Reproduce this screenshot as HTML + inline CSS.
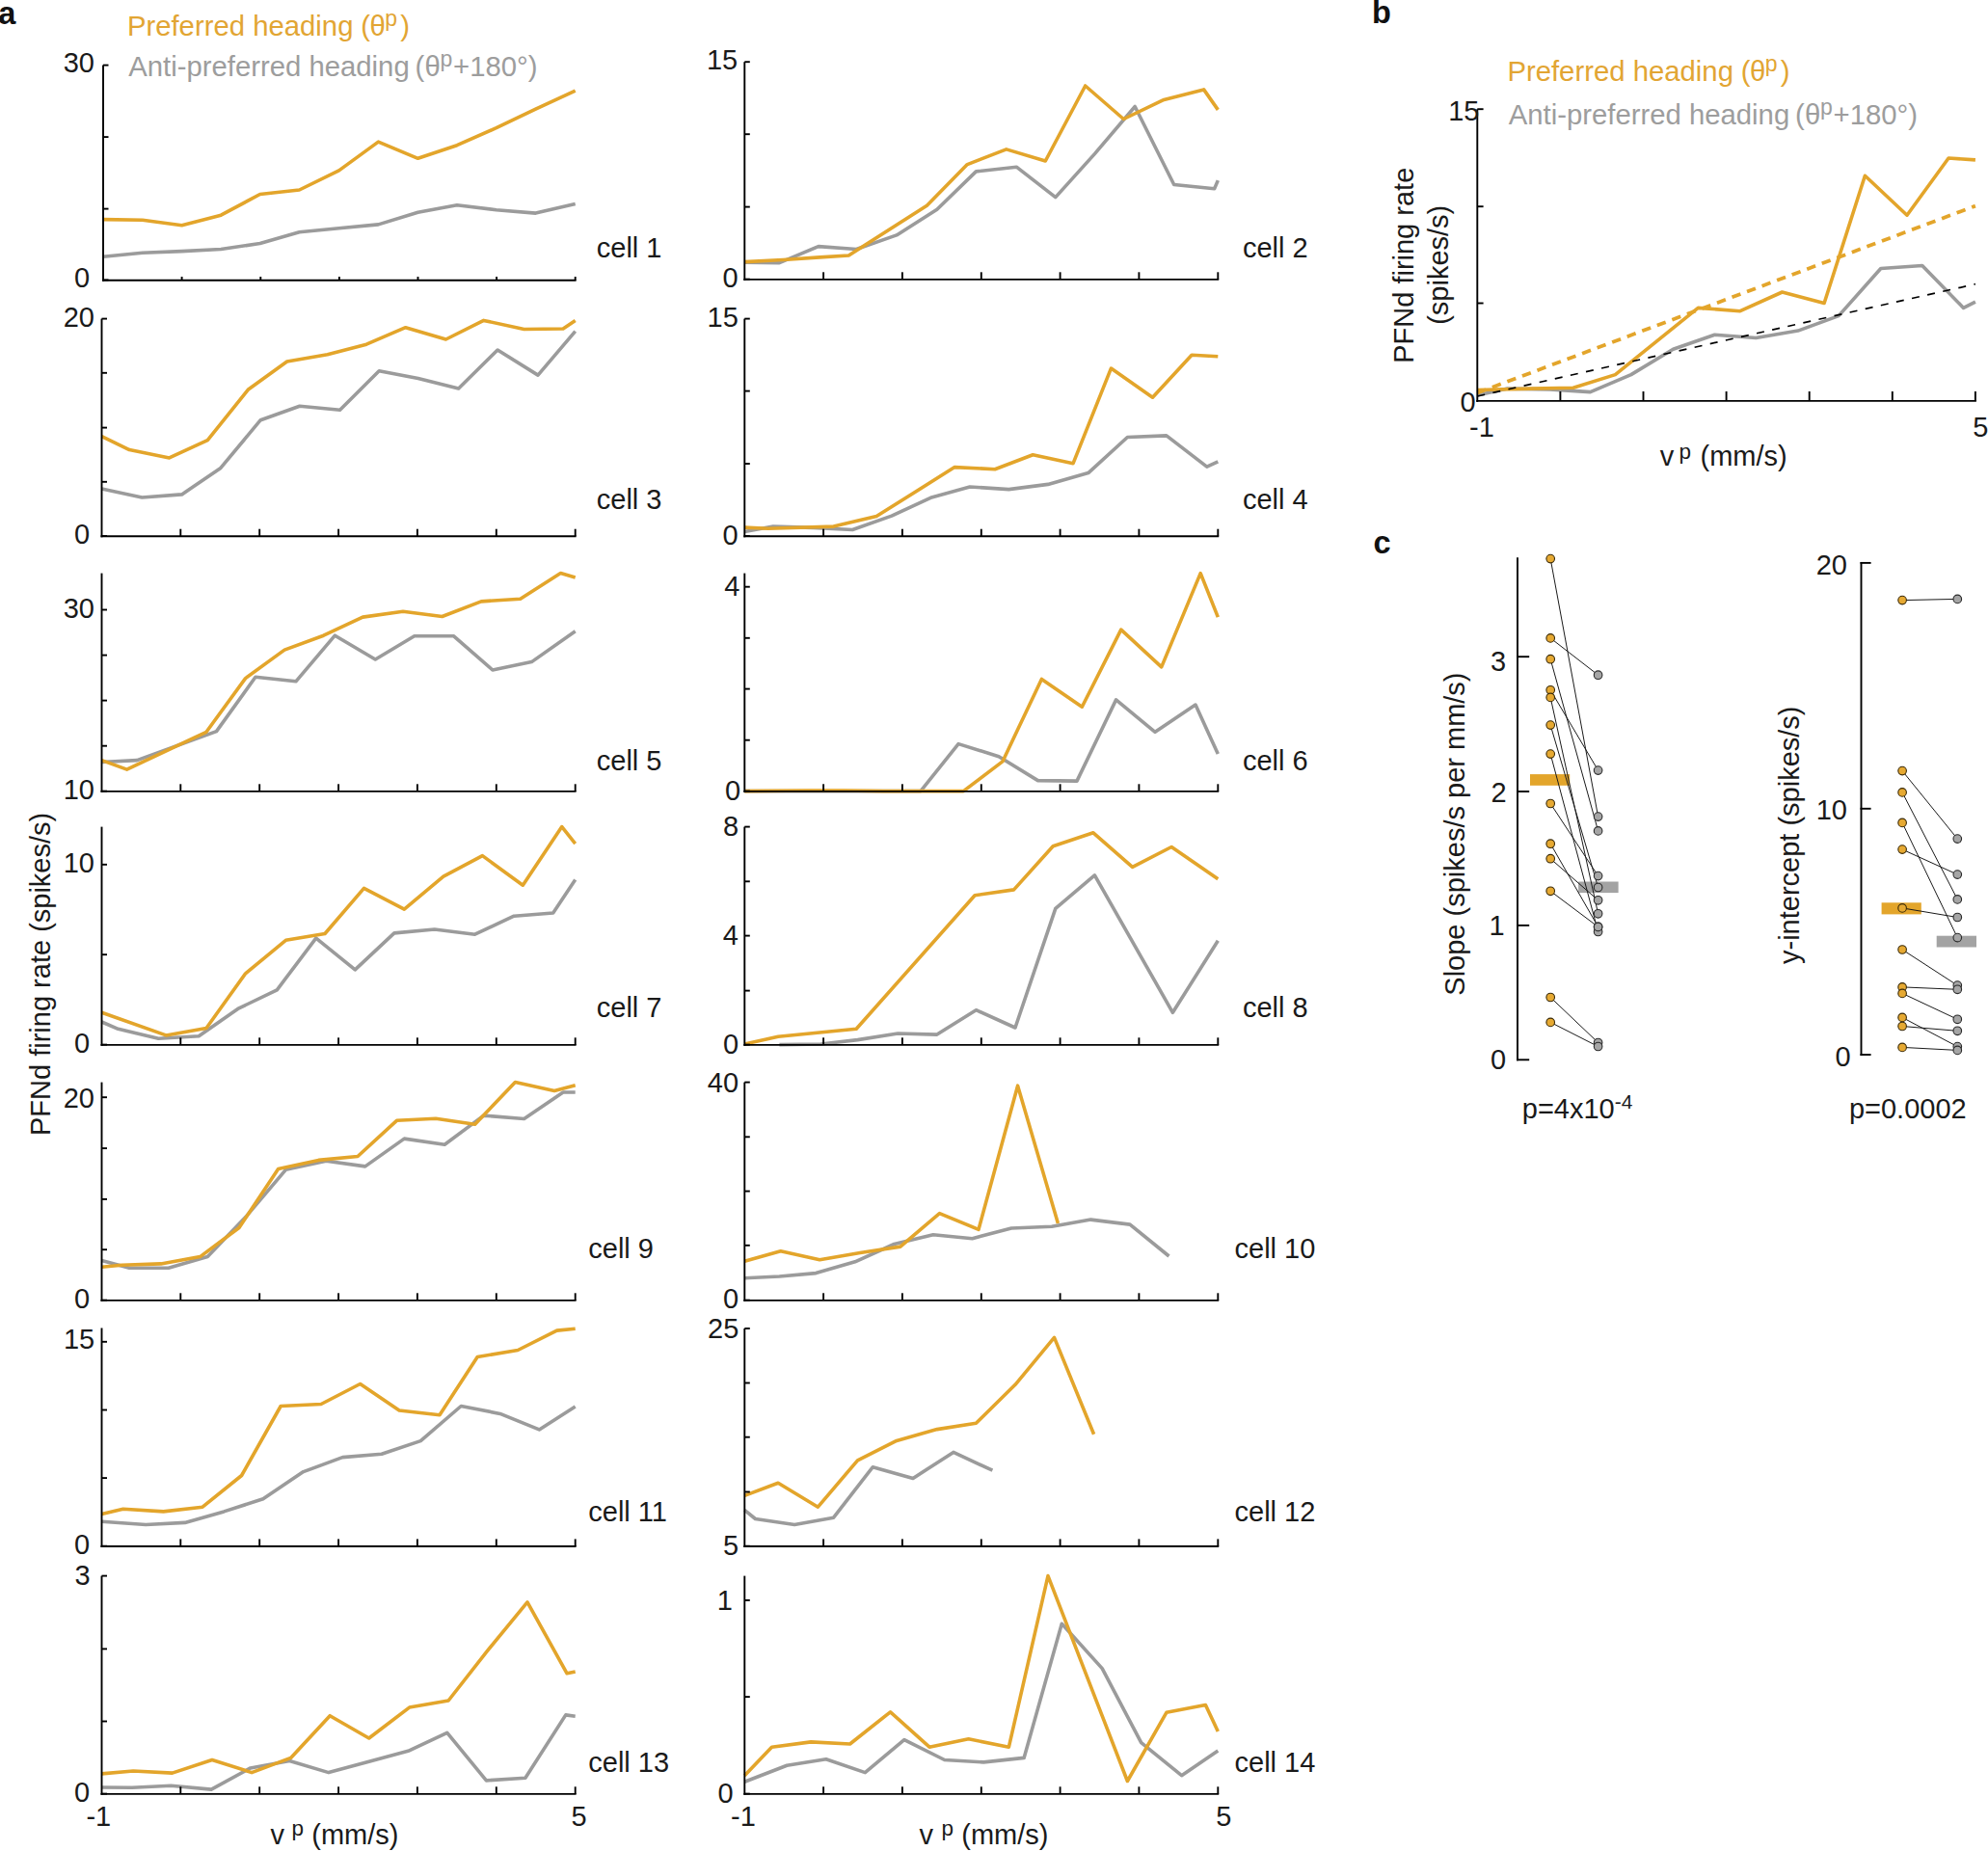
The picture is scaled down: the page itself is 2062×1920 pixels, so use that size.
<!DOCTYPE html>
<html><head><meta charset="utf-8"><style>
html,body{margin:0;padding:0;background:#fff;}
svg{display:block;}
text{font-family:"Liberation Sans",Arial,sans-serif;}
</style></head><body>
<svg width="2062" height="1920" viewBox="0 0 2062 1920">
<rect width="2062" height="1920" fill="#fff"/>
<polyline points="107.0,266.3 147.8,262.2 188.6,260.6 229.2,258.5 269.7,252.5 310.5,240.7 351.6,236.8 392.4,232.9 433.5,220.3 474.0,212.7 514.8,217.7 555.6,221.1 596.7,211.4" fill="none" stroke="#9B9B9B" stroke-width="3.6" stroke-linejoin="round" />
<polyline points="107.0,227.6 147.8,228.2 188.6,233.7 229.2,223.2 269.7,201.5 310.5,197.0 351.6,176.9 392.4,147.1 433.5,164.3 474.0,150.7 514.8,132.7 555.6,113.1 596.7,94.2" fill="none" stroke="#E3A52B" stroke-width="3.6" stroke-linejoin="round" />
<line x1="107.0" y1="67.6" x2="107.0" y2="291.7" stroke="#000" stroke-width="1.9" />
<line x1="106.1" y1="290.7" x2="597.6" y2="290.7" stroke="#000" stroke-width="1.9" />
<line x1="188.6" y1="290.7" x2="188.6" y2="287.0" stroke="#000" stroke-width="1.9" />
<line x1="270.3" y1="290.7" x2="270.3" y2="287.0" stroke="#000" stroke-width="1.9" />
<line x1="351.9" y1="290.7" x2="351.9" y2="287.0" stroke="#000" stroke-width="1.9" />
<line x1="433.5" y1="290.7" x2="433.5" y2="287.0" stroke="#000" stroke-width="1.9" />
<line x1="515.1" y1="290.7" x2="515.1" y2="287.0" stroke="#000" stroke-width="1.9" />
<line x1="596.7" y1="290.7" x2="596.7" y2="287.0" stroke="#000" stroke-width="1.9" />
<line x1="107.0" y1="67.6" x2="112.5" y2="67.6" stroke="#000" stroke-width="1.9" />
<line x1="107.0" y1="142.1" x2="112.5" y2="142.1" stroke="#000" stroke-width="1.9" />
<line x1="107.0" y1="216.6" x2="112.5" y2="216.6" stroke="#000" stroke-width="1.9" />
<line x1="107.0" y1="290.4" x2="112.5" y2="290.4" stroke="#000" stroke-width="1.9" />
<polyline points="105.5,507.1 147.3,516.0 188.6,512.9 228.9,485.4 270.3,435.7 310.8,421.3 352.6,425.2 393.2,384.7 433.7,392.5 475.6,403.0 516.1,363.0 558.0,389.1 596.7,343.6" fill="none" stroke="#9B9B9B" stroke-width="3.6" stroke-linejoin="round" />
<polyline points="105.5,452.7 134.2,466.6 175.6,474.9 215.3,456.6 257.2,404.3 297.7,375.0 339.6,367.7 380.1,357.2 420.7,339.7 462.5,352.0 501.7,332.4 543.6,341.5 584.1,341.0 596.7,332.4" fill="none" stroke="#E3A52B" stroke-width="3.6" stroke-linejoin="round" />
<line x1="105.5" y1="330.6" x2="105.5" y2="557.3" stroke="#000" stroke-width="1.9" />
<line x1="104.5" y1="556.3" x2="597.6" y2="556.3" stroke="#000" stroke-width="1.9" />
<line x1="187.3" y1="556.3" x2="187.3" y2="548.7" stroke="#000" stroke-width="1.9" />
<line x1="269.2" y1="556.3" x2="269.2" y2="548.7" stroke="#000" stroke-width="1.9" />
<line x1="351.1" y1="556.3" x2="351.1" y2="548.7" stroke="#000" stroke-width="1.9" />
<line x1="432.9" y1="556.3" x2="432.9" y2="548.7" stroke="#000" stroke-width="1.9" />
<line x1="514.8" y1="556.3" x2="514.8" y2="548.7" stroke="#000" stroke-width="1.9" />
<line x1="596.7" y1="556.3" x2="596.7" y2="548.7" stroke="#000" stroke-width="1.9" />
<line x1="105.5" y1="330.6" x2="111.0" y2="330.6" stroke="#000" stroke-width="1.9" />
<line x1="105.5" y1="386.8" x2="111.0" y2="386.8" stroke="#000" stroke-width="1.9" />
<line x1="105.5" y1="443.6" x2="111.0" y2="443.6" stroke="#000" stroke-width="1.9" />
<line x1="105.5" y1="499.8" x2="111.0" y2="499.8" stroke="#000" stroke-width="1.9" />
<line x1="105.5" y1="556.0" x2="111.0" y2="556.0" stroke="#000" stroke-width="1.9" />
<polyline points="105.5,790.5 142.1,788.6 224.5,758.6 265.0,702.3 306.9,706.8 347.4,659.2 389.3,684.0 429.8,659.7 470.4,659.7 510.9,695.0 551.4,686.6 596.7,654.7" fill="none" stroke="#9B9B9B" stroke-width="3.6" stroke-linejoin="round" />
<polyline points="105.5,788.6 131.6,798.1 214.0,759.3 254.6,703.6 295.1,674.1 335.6,659.2 376.2,640.1 418.0,634.3 458.6,639.5 499.1,623.9 539.7,621.2 581.5,594.6 596.7,599.0" fill="none" stroke="#E3A52B" stroke-width="3.6" stroke-linejoin="round" />
<line x1="105.5" y1="594.6" x2="105.5" y2="821.8" stroke="#000" stroke-width="1.9" />
<line x1="104.5" y1="820.9" x2="597.6" y2="820.9" stroke="#000" stroke-width="1.9" />
<line x1="187.3" y1="820.9" x2="187.3" y2="813.3" stroke="#000" stroke-width="1.9" />
<line x1="269.2" y1="820.9" x2="269.2" y2="813.3" stroke="#000" stroke-width="1.9" />
<line x1="351.1" y1="820.9" x2="351.1" y2="813.3" stroke="#000" stroke-width="1.9" />
<line x1="432.9" y1="820.9" x2="432.9" y2="813.3" stroke="#000" stroke-width="1.9" />
<line x1="514.8" y1="820.9" x2="514.8" y2="813.3" stroke="#000" stroke-width="1.9" />
<line x1="596.7" y1="820.9" x2="596.7" y2="813.3" stroke="#000" stroke-width="1.9" />
<line x1="105.5" y1="632.5" x2="111.0" y2="632.5" stroke="#000" stroke-width="1.9" />
<line x1="105.5" y1="679.6" x2="111.0" y2="679.6" stroke="#000" stroke-width="1.9" />
<line x1="105.5" y1="726.6" x2="111.0" y2="726.6" stroke="#000" stroke-width="1.9" />
<line x1="105.5" y1="773.7" x2="111.0" y2="773.7" stroke="#000" stroke-width="1.9" />
<line x1="105.5" y1="820.6" x2="111.0" y2="820.6" stroke="#000" stroke-width="1.9" />
<polyline points="105.5,1060.0 122.5,1067.3 164.3,1077.3 206.2,1074.7 246.7,1046.4 287.3,1026.8 327.8,973.2 368.3,1005.9 408.9,967.9 450.7,964.0 492.6,969.2 533.1,950.2 573.7,947.0 596.7,912.5" fill="none" stroke="#9B9B9B" stroke-width="3.6" stroke-linejoin="round" />
<polyline points="105.5,1050.3 172.2,1073.9 214.0,1066.5 254.6,1009.8 296.4,975.3 337.0,968.5 377.5,921.4 419.3,943.1 459.9,909.1 500.4,887.6 542.3,918.2 582.8,857.6 596.7,875.1" fill="none" stroke="#E3A52B" stroke-width="3.6" stroke-linejoin="round" />
<line x1="105.5" y1="857.6" x2="105.5" y2="1084.8" stroke="#000" stroke-width="1.9" />
<line x1="104.5" y1="1083.9" x2="597.6" y2="1083.9" stroke="#000" stroke-width="1.9" />
<line x1="187.3" y1="1083.9" x2="187.3" y2="1076.3" stroke="#000" stroke-width="1.9" />
<line x1="269.2" y1="1083.9" x2="269.2" y2="1076.3" stroke="#000" stroke-width="1.9" />
<line x1="351.1" y1="1083.9" x2="351.1" y2="1076.3" stroke="#000" stroke-width="1.9" />
<line x1="432.9" y1="1083.9" x2="432.9" y2="1076.3" stroke="#000" stroke-width="1.9" />
<line x1="514.8" y1="1083.9" x2="514.8" y2="1076.3" stroke="#000" stroke-width="1.9" />
<line x1="596.7" y1="1083.9" x2="596.7" y2="1076.3" stroke="#000" stroke-width="1.9" />
<line x1="105.5" y1="896.8" x2="111.0" y2="896.8" stroke="#000" stroke-width="1.9" />
<line x1="105.5" y1="990.2" x2="111.0" y2="990.2" stroke="#000" stroke-width="1.9" />
<line x1="105.5" y1="1083.6" x2="111.0" y2="1083.6" stroke="#000" stroke-width="1.9" />
<polyline points="105.5,1307.5 134.2,1315.3 174.8,1315.3 215.3,1303.6 255.9,1261.2 296.4,1213.3 338.3,1204.2 378.8,1209.9 419.3,1181.1 461.2,1187.2 501.7,1157.1 543.6,1160.5 584.1,1133.0 596.7,1133.0" fill="none" stroke="#9B9B9B" stroke-width="3.6" stroke-linejoin="round" />
<polyline points="105.5,1314.3 126.4,1312.2 166.9,1310.9 207.5,1303.6 248.0,1273.5 288.6,1212.5 330.4,1203.4 371.0,1199.5 411.5,1162.3 452.0,1160.2 492.6,1166.2 534.4,1122.6 575.0,1131.4 596.7,1125.7" fill="none" stroke="#E3A52B" stroke-width="3.6" stroke-linejoin="round" />
<line x1="105.5" y1="1122.6" x2="105.5" y2="1349.8" stroke="#000" stroke-width="1.9" />
<line x1="104.5" y1="1348.9" x2="597.6" y2="1348.9" stroke="#000" stroke-width="1.9" />
<line x1="187.3" y1="1348.9" x2="187.3" y2="1341.3" stroke="#000" stroke-width="1.9" />
<line x1="269.2" y1="1348.9" x2="269.2" y2="1341.3" stroke="#000" stroke-width="1.9" />
<line x1="351.1" y1="1348.9" x2="351.1" y2="1341.3" stroke="#000" stroke-width="1.9" />
<line x1="432.9" y1="1348.9" x2="432.9" y2="1341.3" stroke="#000" stroke-width="1.9" />
<line x1="514.8" y1="1348.9" x2="514.8" y2="1341.3" stroke="#000" stroke-width="1.9" />
<line x1="596.7" y1="1348.9" x2="596.7" y2="1341.3" stroke="#000" stroke-width="1.9" />
<line x1="105.5" y1="1138.2" x2="111.0" y2="1138.2" stroke="#000" stroke-width="1.9" />
<line x1="105.5" y1="1191.1" x2="111.0" y2="1191.1" stroke="#000" stroke-width="1.9" />
<line x1="105.5" y1="1243.9" x2="111.0" y2="1243.9" stroke="#000" stroke-width="1.9" />
<line x1="105.5" y1="1296.2" x2="111.0" y2="1296.2" stroke="#000" stroke-width="1.9" />
<line x1="105.5" y1="1348.6" x2="111.0" y2="1348.6" stroke="#000" stroke-width="1.9" />
<polyline points="105.5,1578.3 151.2,1581.5 191.8,1579.4 232.3,1567.9 272.9,1554.8 314.7,1526.6 355.3,1511.6 395.8,1508.2 436.3,1494.6 478.2,1458.5 518.7,1466.4 559.3,1482.9 596.7,1459.1" fill="none" stroke="#9B9B9B" stroke-width="3.6" stroke-linejoin="round" />
<polyline points="105.5,1570.5 127.7,1565.3 169.5,1567.9 210.1,1563.2 250.6,1530.5 291.2,1458.5 333.0,1456.5 373.6,1435.5 414.1,1463.0 456.0,1467.7 495.2,1407.5 537.1,1400.5 577.6,1380.1 596.7,1378.2" fill="none" stroke="#E3A52B" stroke-width="3.6" stroke-linejoin="round" />
<line x1="105.5" y1="1377.5" x2="105.5" y2="1605.0" stroke="#000" stroke-width="1.9" />
<line x1="104.5" y1="1604.0" x2="597.6" y2="1604.0" stroke="#000" stroke-width="1.9" />
<line x1="187.3" y1="1604.0" x2="187.3" y2="1596.4" stroke="#000" stroke-width="1.9" />
<line x1="269.2" y1="1604.0" x2="269.2" y2="1596.4" stroke="#000" stroke-width="1.9" />
<line x1="351.1" y1="1604.0" x2="351.1" y2="1596.4" stroke="#000" stroke-width="1.9" />
<line x1="432.9" y1="1604.0" x2="432.9" y2="1596.4" stroke="#000" stroke-width="1.9" />
<line x1="514.8" y1="1604.0" x2="514.8" y2="1596.4" stroke="#000" stroke-width="1.9" />
<line x1="596.7" y1="1604.0" x2="596.7" y2="1596.4" stroke="#000" stroke-width="1.9" />
<line x1="105.5" y1="1391.8" x2="111.0" y2="1391.8" stroke="#000" stroke-width="1.9" />
<line x1="105.5" y1="1462.5" x2="111.0" y2="1462.5" stroke="#000" stroke-width="1.9" />
<line x1="105.5" y1="1533.1" x2="111.0" y2="1533.1" stroke="#000" stroke-width="1.9" />
<line x1="105.5" y1="1603.7" x2="111.0" y2="1603.7" stroke="#000" stroke-width="1.9" />
<polyline points="105.5,1854.0 136.9,1854.3 177.4,1852.2 219.2,1856.1 259.8,1833.9 300.3,1826.5 340.9,1838.6 382.7,1827.3 423.3,1816.3 463.8,1797.3 504.4,1846.9 544.9,1844.3 586.8,1778.9 596.7,1780.2" fill="none" stroke="#9B9B9B" stroke-width="3.6" stroke-linejoin="round" />
<polyline points="105.5,1839.9 138.2,1837.0 178.7,1839.1 220.0,1825.5 261.1,1838.6 301.6,1823.4 342.2,1779.7 382.7,1803.0 424.6,1771.1 465.1,1764.0 505.7,1712.2 547.0,1661.8 588.1,1735.8 596.7,1734.0" fill="none" stroke="#E3A52B" stroke-width="3.6" stroke-linejoin="round" />
<line x1="105.5" y1="1634.6" x2="105.5" y2="1861.8" stroke="#000" stroke-width="1.9" />
<line x1="104.5" y1="1860.9" x2="597.6" y2="1860.9" stroke="#000" stroke-width="1.9" />
<line x1="187.3" y1="1860.9" x2="187.3" y2="1853.3" stroke="#000" stroke-width="1.9" />
<line x1="269.2" y1="1860.9" x2="269.2" y2="1853.3" stroke="#000" stroke-width="1.9" />
<line x1="351.1" y1="1860.9" x2="351.1" y2="1853.3" stroke="#000" stroke-width="1.9" />
<line x1="432.9" y1="1860.9" x2="432.9" y2="1853.3" stroke="#000" stroke-width="1.9" />
<line x1="514.8" y1="1860.9" x2="514.8" y2="1853.3" stroke="#000" stroke-width="1.9" />
<line x1="596.7" y1="1860.9" x2="596.7" y2="1853.3" stroke="#000" stroke-width="1.9" />
<line x1="105.5" y1="1634.6" x2="111.0" y2="1634.6" stroke="#000" stroke-width="1.9" />
<line x1="105.5" y1="1710.4" x2="111.0" y2="1710.4" stroke="#000" stroke-width="1.9" />
<line x1="105.5" y1="1785.5" x2="111.0" y2="1785.5" stroke="#000" stroke-width="1.9" />
<line x1="105.5" y1="1860.6" x2="111.0" y2="1860.6" stroke="#000" stroke-width="1.9" />
<polyline points="772.3,272.1 808.4,272.6 848.9,255.6 888.2,258.5 930.0,243.9 971.9,217.2 1012.4,177.9 1054.3,173.2 1094.8,204.6 1135.4,159.6 1177.2,110.5 1217.7,191.5 1259.6,195.7 1263.3,187.1" fill="none" stroke="#9B9B9B" stroke-width="3.6" stroke-linejoin="round" />
<polyline points="772.3,271.6 812.3,269.5 850.2,266.9 880.3,265.0 961.4,213.2 1003.3,170.6 1043.8,154.9 1084.3,167.0 1125.7,89.0 1165.4,123.5 1207.3,103.4 1248.6,92.9 1263.3,113.9" fill="none" stroke="#E3A52B" stroke-width="3.6" stroke-linejoin="round" />
<line x1="772.3" y1="64.2" x2="772.3" y2="290.9" stroke="#000" stroke-width="1.9" />
<line x1="771.3" y1="289.9" x2="1264.2" y2="289.9" stroke="#000" stroke-width="1.9" />
<line x1="854.1" y1="289.9" x2="854.1" y2="282.3" stroke="#000" stroke-width="1.9" />
<line x1="935.9" y1="289.9" x2="935.9" y2="282.3" stroke="#000" stroke-width="1.9" />
<line x1="1017.8" y1="289.9" x2="1017.8" y2="282.3" stroke="#000" stroke-width="1.9" />
<line x1="1099.6" y1="289.9" x2="1099.6" y2="282.3" stroke="#000" stroke-width="1.9" />
<line x1="1181.4" y1="289.9" x2="1181.4" y2="282.3" stroke="#000" stroke-width="1.9" />
<line x1="1263.3" y1="289.9" x2="1263.3" y2="282.3" stroke="#000" stroke-width="1.9" />
<line x1="772.3" y1="64.2" x2="777.8" y2="64.2" stroke="#000" stroke-width="1.9" />
<line x1="772.3" y1="139.2" x2="777.8" y2="139.2" stroke="#000" stroke-width="1.9" />
<line x1="772.3" y1="214.6" x2="777.8" y2="214.6" stroke="#000" stroke-width="1.9" />
<line x1="772.3" y1="289.6" x2="777.8" y2="289.6" stroke="#000" stroke-width="1.9" />
<polyline points="772.3,551.6 801.9,546.1 843.7,547.4 884.2,549.5 924.8,535.1 965.3,516.3 1005.9,505.0 1046.4,507.6 1087.0,502.4 1128.8,490.6 1169.4,453.5 1209.9,451.9 1251.8,484.1 1263.3,478.9" fill="none" stroke="#9B9B9B" stroke-width="3.6" stroke-linejoin="round" />
<polyline points="772.3,547.1 796.6,548.2 864.6,546.1 909.1,535.6 990.2,484.6 1032.0,486.7 1071.3,471.8 1113.1,480.7 1152.4,382.1 1195.5,412.2 1236.1,368.2 1263.3,369.8" fill="none" stroke="#E3A52B" stroke-width="3.6" stroke-linejoin="round" />
<line x1="772.3" y1="330.6" x2="772.3" y2="557.3" stroke="#000" stroke-width="1.9" />
<line x1="771.3" y1="556.3" x2="1264.2" y2="556.3" stroke="#000" stroke-width="1.9" />
<line x1="854.1" y1="556.3" x2="854.1" y2="548.7" stroke="#000" stroke-width="1.9" />
<line x1="935.9" y1="556.3" x2="935.9" y2="548.7" stroke="#000" stroke-width="1.9" />
<line x1="1017.8" y1="556.3" x2="1017.8" y2="548.7" stroke="#000" stroke-width="1.9" />
<line x1="1099.6" y1="556.3" x2="1099.6" y2="548.7" stroke="#000" stroke-width="1.9" />
<line x1="1181.4" y1="556.3" x2="1181.4" y2="548.7" stroke="#000" stroke-width="1.9" />
<line x1="1263.3" y1="556.3" x2="1263.3" y2="548.7" stroke="#000" stroke-width="1.9" />
<line x1="772.3" y1="330.6" x2="777.8" y2="330.6" stroke="#000" stroke-width="1.9" />
<line x1="772.3" y1="405.6" x2="777.8" y2="405.6" stroke="#000" stroke-width="1.9" />
<line x1="772.3" y1="481.0" x2="777.8" y2="481.0" stroke="#000" stroke-width="1.9" />
<line x1="772.3" y1="556.0" x2="777.8" y2="556.0" stroke="#000" stroke-width="1.9" />
<polyline points="772.3,820.6 954.9,820.6 994.1,771.6 1036.0,784.7 1076.5,809.6 1117.0,810.1 1157.6,725.9 1198.1,759.3 1240.0,731.1 1263.3,782.1" fill="none" stroke="#9B9B9B" stroke-width="3.6" stroke-linejoin="round" />
<polyline points="772.3,820.6 838.5,820.0 875.1,820.0 916.9,820.6 999.3,820.6 1039.9,789.9 1080.4,704.4 1122.3,733.2 1162.8,653.1 1204.7,691.9 1245.2,594.6 1263.3,640.1" fill="none" stroke="#E3A52B" stroke-width="3.6" stroke-linejoin="round" />
<line x1="772.3" y1="594.6" x2="772.3" y2="821.8" stroke="#000" stroke-width="1.9" />
<line x1="771.3" y1="820.9" x2="1264.2" y2="820.9" stroke="#000" stroke-width="1.9" />
<line x1="854.1" y1="820.9" x2="854.1" y2="813.3" stroke="#000" stroke-width="1.9" />
<line x1="935.9" y1="820.9" x2="935.9" y2="813.3" stroke="#000" stroke-width="1.9" />
<line x1="1017.8" y1="820.9" x2="1017.8" y2="813.3" stroke="#000" stroke-width="1.9" />
<line x1="1099.6" y1="820.9" x2="1099.6" y2="813.3" stroke="#000" stroke-width="1.9" />
<line x1="1181.4" y1="820.9" x2="1181.4" y2="813.3" stroke="#000" stroke-width="1.9" />
<line x1="1263.3" y1="820.9" x2="1263.3" y2="813.3" stroke="#000" stroke-width="1.9" />
<line x1="772.3" y1="608.7" x2="777.8" y2="608.7" stroke="#000" stroke-width="1.9" />
<line x1="772.3" y1="661.8" x2="777.8" y2="661.8" stroke="#000" stroke-width="1.9" />
<line x1="772.3" y1="714.6" x2="777.8" y2="714.6" stroke="#000" stroke-width="1.9" />
<line x1="772.3" y1="767.7" x2="777.8" y2="767.7" stroke="#000" stroke-width="1.9" />
<line x1="772.3" y1="820.6" x2="777.8" y2="820.6" stroke="#000" stroke-width="1.9" />
<polyline points="808.4,1083.6 851.5,1083.0 889.5,1078.6 931.3,1072.0 971.9,1073.1 1012.4,1047.7 1053.0,1066.0 1094.8,942.3 1135.4,907.8 1216.4,1050.3 1263.3,975.8" fill="none" stroke="#9B9B9B" stroke-width="3.6" stroke-linejoin="round" />
<polyline points="772.3,1083.0 807.1,1075.2 847.6,1071.3 888.2,1067.3 1011.1,928.7 1051.6,922.9 1092.2,877.7 1134.0,863.8 1174.6,899.4 1215.1,878.5 1263.3,911.7" fill="none" stroke="#E3A52B" stroke-width="3.6" stroke-linejoin="round" />
<line x1="772.3" y1="857.6" x2="772.3" y2="1084.8" stroke="#000" stroke-width="1.9" />
<line x1="771.3" y1="1083.9" x2="1264.2" y2="1083.9" stroke="#000" stroke-width="1.9" />
<line x1="854.1" y1="1083.9" x2="854.1" y2="1076.3" stroke="#000" stroke-width="1.9" />
<line x1="935.9" y1="1083.9" x2="935.9" y2="1076.3" stroke="#000" stroke-width="1.9" />
<line x1="1017.8" y1="1083.9" x2="1017.8" y2="1076.3" stroke="#000" stroke-width="1.9" />
<line x1="1099.6" y1="1083.9" x2="1099.6" y2="1076.3" stroke="#000" stroke-width="1.9" />
<line x1="1181.4" y1="1083.9" x2="1181.4" y2="1076.3" stroke="#000" stroke-width="1.9" />
<line x1="1263.3" y1="1083.9" x2="1263.3" y2="1076.3" stroke="#000" stroke-width="1.9" />
<line x1="772.3" y1="857.6" x2="777.8" y2="857.6" stroke="#000" stroke-width="1.9" />
<line x1="772.3" y1="914.3" x2="777.8" y2="914.3" stroke="#000" stroke-width="1.9" />
<line x1="772.3" y1="970.6" x2="777.8" y2="970.6" stroke="#000" stroke-width="1.9" />
<line x1="772.3" y1="1027.6" x2="777.8" y2="1027.6" stroke="#000" stroke-width="1.9" />
<line x1="772.3" y1="1083.6" x2="777.8" y2="1083.6" stroke="#000" stroke-width="1.9" />
<polyline points="772.3,1325.8 808.4,1324.0 846.3,1320.6 886.9,1308.8 927.4,1290.5 967.9,1280.8 1008.5,1284.7 1049.0,1274.0 1090.9,1272.2 1131.4,1265.1 1172.0,1270.1 1212.5,1303.0" fill="none" stroke="#9B9B9B" stroke-width="3.6" stroke-linejoin="round" />
<polyline points="772.3,1308.3 809.7,1297.8 850.2,1306.7 892.1,1299.6 933.9,1293.1 974.5,1258.6 1015.0,1275.3 1055.6,1126.2 1097.4,1269.0" fill="none" stroke="#E3A52B" stroke-width="3.6" stroke-linejoin="round" />
<line x1="772.3" y1="1122.6" x2="772.3" y2="1349.8" stroke="#000" stroke-width="1.9" />
<line x1="771.3" y1="1348.9" x2="1264.2" y2="1348.9" stroke="#000" stroke-width="1.9" />
<line x1="854.1" y1="1348.9" x2="854.1" y2="1341.3" stroke="#000" stroke-width="1.9" />
<line x1="935.9" y1="1348.9" x2="935.9" y2="1341.3" stroke="#000" stroke-width="1.9" />
<line x1="1017.8" y1="1348.9" x2="1017.8" y2="1341.3" stroke="#000" stroke-width="1.9" />
<line x1="1099.6" y1="1348.9" x2="1099.6" y2="1341.3" stroke="#000" stroke-width="1.9" />
<line x1="1181.4" y1="1348.9" x2="1181.4" y2="1341.3" stroke="#000" stroke-width="1.9" />
<line x1="1263.3" y1="1348.9" x2="1263.3" y2="1341.3" stroke="#000" stroke-width="1.9" />
<line x1="772.3" y1="1122.6" x2="777.8" y2="1122.6" stroke="#000" stroke-width="1.9" />
<line x1="772.3" y1="1179.3" x2="777.8" y2="1179.3" stroke="#000" stroke-width="1.9" />
<line x1="772.3" y1="1235.6" x2="777.8" y2="1235.6" stroke="#000" stroke-width="1.9" />
<line x1="772.3" y1="1291.8" x2="777.8" y2="1291.8" stroke="#000" stroke-width="1.9" />
<line x1="772.3" y1="1348.6" x2="777.8" y2="1348.6" stroke="#000" stroke-width="1.9" />
<polyline points="772.3,1566.3 783.5,1575.5 824.1,1581.5 864.6,1574.2 905.2,1521.8 947.0,1533.4 988.9,1506.4 1029.4,1525.2" fill="none" stroke="#9B9B9B" stroke-width="3.6" stroke-linejoin="round" />
<polyline points="772.3,1551.4 807.1,1538.3 848.4,1563.2 889.5,1514.8 930.0,1494.4 971.9,1482.6 1012.4,1476.3 1053.0,1436.3 1093.5,1387.4 1134.6,1487.8" fill="none" stroke="#E3A52B" stroke-width="3.6" stroke-linejoin="round" />
<line x1="772.3" y1="1378.0" x2="772.3" y2="1605.0" stroke="#000" stroke-width="1.9" />
<line x1="771.3" y1="1604.0" x2="1264.2" y2="1604.0" stroke="#000" stroke-width="1.9" />
<line x1="854.1" y1="1604.0" x2="854.1" y2="1596.4" stroke="#000" stroke-width="1.9" />
<line x1="935.9" y1="1604.0" x2="935.9" y2="1596.4" stroke="#000" stroke-width="1.9" />
<line x1="1017.8" y1="1604.0" x2="1017.8" y2="1596.4" stroke="#000" stroke-width="1.9" />
<line x1="1099.6" y1="1604.0" x2="1099.6" y2="1596.4" stroke="#000" stroke-width="1.9" />
<line x1="1181.4" y1="1604.0" x2="1181.4" y2="1596.4" stroke="#000" stroke-width="1.9" />
<line x1="1263.3" y1="1604.0" x2="1263.3" y2="1596.4" stroke="#000" stroke-width="1.9" />
<line x1="772.3" y1="1378.0" x2="777.8" y2="1378.0" stroke="#000" stroke-width="1.9" />
<line x1="772.3" y1="1434.5" x2="777.8" y2="1434.5" stroke="#000" stroke-width="1.9" />
<line x1="772.3" y1="1490.7" x2="777.8" y2="1490.7" stroke="#000" stroke-width="1.9" />
<line x1="772.3" y1="1547.5" x2="777.8" y2="1547.5" stroke="#000" stroke-width="1.9" />
<line x1="772.3" y1="1603.7" x2="777.8" y2="1603.7" stroke="#000" stroke-width="1.9" />
<polyline points="772.3,1848.3 816.2,1831.3 856.8,1824.7 897.3,1838.6 937.9,1804.6 979.7,1825.5 1020.3,1827.9 1062.1,1823.4 1101.3,1684.3 1143.2,1730.6 1183.7,1807.7 1225.6,1841.7 1263.3,1816.1" fill="none" stroke="#9B9B9B" stroke-width="3.6" stroke-linejoin="round" />
<polyline points="772.3,1841.7 800.5,1812.2 841.1,1806.9 881.6,1809.0 923.5,1775.8 964.0,1812.2 1004.6,1803.8 1046.4,1812.2 1087.0,1634.6 1169.4,1847.5 1209.9,1776.3 1250.4,1768.5 1263.3,1795.9" fill="none" stroke="#E3A52B" stroke-width="3.6" stroke-linejoin="round" />
<line x1="772.3" y1="1634.6" x2="772.3" y2="1861.8" stroke="#000" stroke-width="1.9" />
<line x1="771.3" y1="1860.9" x2="1264.2" y2="1860.9" stroke="#000" stroke-width="1.9" />
<line x1="854.1" y1="1860.9" x2="854.1" y2="1853.3" stroke="#000" stroke-width="1.9" />
<line x1="935.9" y1="1860.9" x2="935.9" y2="1853.3" stroke="#000" stroke-width="1.9" />
<line x1="1017.8" y1="1860.9" x2="1017.8" y2="1853.3" stroke="#000" stroke-width="1.9" />
<line x1="1099.6" y1="1860.9" x2="1099.6" y2="1853.3" stroke="#000" stroke-width="1.9" />
<line x1="1181.4" y1="1860.9" x2="1181.4" y2="1853.3" stroke="#000" stroke-width="1.9" />
<line x1="1263.3" y1="1860.9" x2="1263.3" y2="1853.3" stroke="#000" stroke-width="1.9" />
<line x1="772.3" y1="1659.9" x2="777.8" y2="1659.9" stroke="#000" stroke-width="1.9" />
<line x1="772.3" y1="1760.1" x2="777.8" y2="1760.1" stroke="#000" stroke-width="1.9" />
<line x1="772.3" y1="1860.6" x2="777.8" y2="1860.6" stroke="#000" stroke-width="1.9" />
<polyline points="1532.3,409.9 1563.6,403.1 1607.2,403.9 1649.5,406.6 1691.8,388.6 1735.4,362.2 1778.5,347.2 1821.3,350.5 1864.9,343.1 1907.1,327.6 1950.8,278.5 1993.8,275.5 2036.6,319.4 2048.9,313.1" fill="none" stroke="#9B9B9B" stroke-width="3.6" stroke-linejoin="round" />
<polyline points="1532.3,404.5 1588.2,403.1 1631.8,402.3 1675.4,388.6 1761.3,319.4 1804.9,322.7 1848.5,303.0 1892.1,314.5 1934.4,182.3 1978.0,223.2 2021.1,164.0 2048.9,165.9" fill="none" stroke="#E3A52B" stroke-width="3.6" stroke-linejoin="round" />
<polyline points="1532.3,407.5 2048.9,213.6" fill="none" stroke="#E3A52B" stroke-width="3.8" stroke-linejoin="round" stroke-dasharray="9.5 7.1"/>
<polyline points="1532.3,411.0 2048.9,294.7" fill="none" stroke="#000" stroke-width="1.7" stroke-linejoin="round" stroke-dasharray="8 8.5"/>
<line x1="1532.3" y1="113.2" x2="1532.3" y2="416.9" stroke="#000" stroke-width="1.9" />
<line x1="1531.3" y1="415.9" x2="2049.9" y2="415.9" stroke="#000" stroke-width="1.9" />
<line x1="1618.4" y1="415.9" x2="1618.4" y2="406.0" stroke="#000" stroke-width="1.9" />
<line x1="1704.5" y1="415.9" x2="1704.5" y2="406.0" stroke="#000" stroke-width="1.9" />
<line x1="1790.6" y1="415.9" x2="1790.6" y2="406.0" stroke="#000" stroke-width="1.9" />
<line x1="1876.7" y1="415.9" x2="1876.7" y2="406.0" stroke="#000" stroke-width="1.9" />
<line x1="1962.8" y1="415.9" x2="1962.8" y2="406.0" stroke="#000" stroke-width="1.9" />
<line x1="2048.9" y1="415.9" x2="2048.9" y2="406.0" stroke="#000" stroke-width="1.9" />
<line x1="1532.3" y1="113.2" x2="1538.6" y2="113.2" stroke="#000" stroke-width="1.9" />
<line x1="1532.3" y1="214.2" x2="1538.6" y2="214.2" stroke="#000" stroke-width="1.9" />
<line x1="1532.3" y1="314.5" x2="1538.6" y2="314.5" stroke="#000" stroke-width="1.9" />
<rect x="1587.0" y="803.1" width="41.2" height="11.7" fill="#E3A52B"/>
<rect x="1637.1" y="914.5" width="41.5" height="11.6" fill="#A3A3A3"/>
<rect x="1951.6" y="936.3" width="41.2" height="12.1" fill="#E3A52B"/>
<rect x="2008.7" y="970.7" width="41.3" height="11.8" fill="#A3A3A3"/>
<line x1="1574.0" y1="578.2" x2="1574.0" y2="1100.2" stroke="#000" stroke-width="1.9" />
<line x1="1573.0" y1="681.2" x2="1586.2" y2="681.2" stroke="#000" stroke-width="1.9" />
<line x1="1573.0" y1="821.0" x2="1586.2" y2="821.0" stroke="#000" stroke-width="1.9" />
<line x1="1573.0" y1="959.9" x2="1586.2" y2="959.9" stroke="#000" stroke-width="1.9" />
<line x1="1573.0" y1="1099.3" x2="1586.2" y2="1099.3" stroke="#000" stroke-width="1.9" />
<line x1="1930.5" y1="582.9" x2="1930.5" y2="1095.0" stroke="#000" stroke-width="1.9" />
<line x1="1929.5" y1="583.9" x2="1940.6" y2="583.9" stroke="#000" stroke-width="1.9" />
<line x1="1929.5" y1="838.8" x2="1940.6" y2="838.8" stroke="#000" stroke-width="1.9" />
<line x1="1929.5" y1="1094.0" x2="1940.6" y2="1094.0" stroke="#000" stroke-width="1.9" />
<line x1="1608.2" y1="579.6" x2="1657.6" y2="847.1" stroke="#1a1a1a" stroke-width="1.0" />
<line x1="1608.2" y1="661.9" x2="1657.6" y2="700.2" stroke="#1a1a1a" stroke-width="1.0" />
<line x1="1608.2" y1="683.7" x2="1657.6" y2="861.9" stroke="#1a1a1a" stroke-width="1.0" />
<line x1="1608.2" y1="715.8" x2="1657.6" y2="799.1" stroke="#1a1a1a" stroke-width="1.0" />
<line x1="1608.2" y1="723.4" x2="1657.6" y2="947.8" stroke="#1a1a1a" stroke-width="1.0" />
<line x1="1608.2" y1="752.1" x2="1657.6" y2="920.5" stroke="#1a1a1a" stroke-width="1.0" />
<line x1="1608.2" y1="782.1" x2="1657.6" y2="966.5" stroke="#1a1a1a" stroke-width="1.0" />
<line x1="1608.2" y1="833.5" x2="1657.6" y2="908.6" stroke="#1a1a1a" stroke-width="1.0" />
<line x1="1608.2" y1="875.2" x2="1657.6" y2="961.4" stroke="#1a1a1a" stroke-width="1.0" />
<line x1="1608.2" y1="890.7" x2="1657.6" y2="933.8" stroke="#1a1a1a" stroke-width="1.0" />
<line x1="1608.2" y1="924.3" x2="1657.6" y2="961.4" stroke="#1a1a1a" stroke-width="1.0" />
<line x1="1608.2" y1="1034.5" x2="1657.6" y2="1081.5" stroke="#1a1a1a" stroke-width="1.0" />
<line x1="1608.2" y1="1060.4" x2="1657.6" y2="1085.5" stroke="#1a1a1a" stroke-width="1.0" />
<line x1="1973.1" y1="622.6" x2="2030.3" y2="621.4" stroke="#1a1a1a" stroke-width="1.0" />
<line x1="1973.1" y1="799.6" x2="2030.3" y2="870.1" stroke="#1a1a1a" stroke-width="1.0" />
<line x1="1973.1" y1="821.9" x2="2030.3" y2="932.9" stroke="#1a1a1a" stroke-width="1.0" />
<line x1="1973.1" y1="853.4" x2="2030.3" y2="972.6" stroke="#1a1a1a" stroke-width="1.0" />
<line x1="1973.1" y1="881.1" x2="2030.3" y2="907.1" stroke="#1a1a1a" stroke-width="1.0" />
<line x1="1973.1" y1="941.9" x2="2030.3" y2="951.5" stroke="#1a1a1a" stroke-width="1.0" />
<line x1="1973.1" y1="985.0" x2="2030.3" y2="1022.1" stroke="#1a1a1a" stroke-width="1.0" />
<line x1="1973.1" y1="1023.9" x2="2030.3" y2="1026.3" stroke="#1a1a1a" stroke-width="1.0" />
<line x1="1973.1" y1="1030.4" x2="2030.3" y2="1057.3" stroke="#1a1a1a" stroke-width="1.0" />
<line x1="1973.1" y1="1055.4" x2="2030.3" y2="1085.6" stroke="#1a1a1a" stroke-width="1.0" />
<line x1="1973.1" y1="1064.5" x2="2030.3" y2="1069.3" stroke="#1a1a1a" stroke-width="1.0" />
<line x1="1973.1" y1="1086.4" x2="2030.3" y2="1089.4" stroke="#1a1a1a" stroke-width="1.0" />
<circle cx="1657.6" cy="847.1" r="4.3" fill="#A5A5A5" stroke="#2a2a2a" stroke-width="1.1"/>
<circle cx="1657.6" cy="700.2" r="4.3" fill="#A5A5A5" stroke="#2a2a2a" stroke-width="1.1"/>
<circle cx="1657.6" cy="861.9" r="4.3" fill="#A5A5A5" stroke="#2a2a2a" stroke-width="1.1"/>
<circle cx="1657.6" cy="799.1" r="4.3" fill="#A5A5A5" stroke="#2a2a2a" stroke-width="1.1"/>
<circle cx="1657.6" cy="947.8" r="4.3" fill="#A5A5A5" stroke="#2a2a2a" stroke-width="1.1"/>
<circle cx="1657.6" cy="920.5" r="4.3" fill="#A5A5A5" stroke="#2a2a2a" stroke-width="1.1"/>
<circle cx="1657.6" cy="966.5" r="4.3" fill="#A5A5A5" stroke="#2a2a2a" stroke-width="1.1"/>
<circle cx="1657.6" cy="908.6" r="4.3" fill="#A5A5A5" stroke="#2a2a2a" stroke-width="1.1"/>
<circle cx="1657.6" cy="961.4" r="4.3" fill="#A5A5A5" stroke="#2a2a2a" stroke-width="1.1"/>
<circle cx="1657.6" cy="933.8" r="4.3" fill="#A5A5A5" stroke="#2a2a2a" stroke-width="1.1"/>
<circle cx="1657.6" cy="961.4" r="4.3" fill="#A5A5A5" stroke="#2a2a2a" stroke-width="1.1"/>
<circle cx="1657.6" cy="1081.5" r="4.3" fill="#A5A5A5" stroke="#2a2a2a" stroke-width="1.1"/>
<circle cx="1657.6" cy="1085.5" r="4.3" fill="#A5A5A5" stroke="#2a2a2a" stroke-width="1.1"/>
<circle cx="1608.2" cy="579.6" r="4.3" fill="#E6A932" stroke="#3a2a08" stroke-width="1.1"/>
<circle cx="1608.2" cy="661.9" r="4.3" fill="#E6A932" stroke="#3a2a08" stroke-width="1.1"/>
<circle cx="1608.2" cy="683.7" r="4.3" fill="#E6A932" stroke="#3a2a08" stroke-width="1.1"/>
<circle cx="1608.2" cy="715.8" r="4.3" fill="#E6A932" stroke="#3a2a08" stroke-width="1.1"/>
<circle cx="1608.2" cy="723.4" r="4.3" fill="#E6A932" stroke="#3a2a08" stroke-width="1.1"/>
<circle cx="1608.2" cy="752.1" r="4.3" fill="#E6A932" stroke="#3a2a08" stroke-width="1.1"/>
<circle cx="1608.2" cy="782.1" r="4.3" fill="#E6A932" stroke="#3a2a08" stroke-width="1.1"/>
<circle cx="1608.2" cy="833.5" r="4.3" fill="#E6A932" stroke="#3a2a08" stroke-width="1.1"/>
<circle cx="1608.2" cy="875.2" r="4.3" fill="#E6A932" stroke="#3a2a08" stroke-width="1.1"/>
<circle cx="1608.2" cy="890.7" r="4.3" fill="#E6A932" stroke="#3a2a08" stroke-width="1.1"/>
<circle cx="1608.2" cy="924.3" r="4.3" fill="#E6A932" stroke="#3a2a08" stroke-width="1.1"/>
<circle cx="1608.2" cy="1034.5" r="4.3" fill="#E6A932" stroke="#3a2a08" stroke-width="1.1"/>
<circle cx="1608.2" cy="1060.4" r="4.3" fill="#E6A932" stroke="#3a2a08" stroke-width="1.1"/>
<circle cx="2030.3" cy="621.4" r="4.3" fill="#A5A5A5" stroke="#2a2a2a" stroke-width="1.1"/>
<circle cx="2030.3" cy="870.1" r="4.3" fill="#A5A5A5" stroke="#2a2a2a" stroke-width="1.1"/>
<circle cx="2030.3" cy="932.9" r="4.3" fill="#A5A5A5" stroke="#2a2a2a" stroke-width="1.1"/>
<circle cx="2030.3" cy="972.6" r="4.3" fill="#A5A5A5" stroke="#2a2a2a" stroke-width="1.1"/>
<circle cx="2030.3" cy="907.1" r="4.3" fill="#A5A5A5" stroke="#2a2a2a" stroke-width="1.1"/>
<circle cx="2030.3" cy="951.5" r="4.3" fill="#A5A5A5" stroke="#2a2a2a" stroke-width="1.1"/>
<circle cx="2030.3" cy="1022.1" r="4.3" fill="#A5A5A5" stroke="#2a2a2a" stroke-width="1.1"/>
<circle cx="2030.3" cy="1026.3" r="4.3" fill="#A5A5A5" stroke="#2a2a2a" stroke-width="1.1"/>
<circle cx="2030.3" cy="1057.3" r="4.3" fill="#A5A5A5" stroke="#2a2a2a" stroke-width="1.1"/>
<circle cx="2030.3" cy="1085.6" r="4.3" fill="#A5A5A5" stroke="#2a2a2a" stroke-width="1.1"/>
<circle cx="2030.3" cy="1069.3" r="4.3" fill="#A5A5A5" stroke="#2a2a2a" stroke-width="1.1"/>
<circle cx="2030.3" cy="1089.4" r="4.3" fill="#A5A5A5" stroke="#2a2a2a" stroke-width="1.1"/>
<circle cx="1973.1" cy="622.6" r="4.3" fill="#E6A932" stroke="#3a2a08" stroke-width="1.1"/>
<circle cx="1973.1" cy="799.6" r="4.3" fill="#E6A932" stroke="#3a2a08" stroke-width="1.1"/>
<circle cx="1973.1" cy="821.9" r="4.3" fill="#E6A932" stroke="#3a2a08" stroke-width="1.1"/>
<circle cx="1973.1" cy="853.4" r="4.3" fill="#E6A932" stroke="#3a2a08" stroke-width="1.1"/>
<circle cx="1973.1" cy="881.1" r="4.3" fill="#E6A932" stroke="#3a2a08" stroke-width="1.1"/>
<circle cx="1973.1" cy="941.9" r="4.3" fill="#E6A932" stroke="#3a2a08" stroke-width="1.1"/>
<circle cx="1973.1" cy="985.0" r="4.3" fill="#E6A932" stroke="#3a2a08" stroke-width="1.1"/>
<circle cx="1973.1" cy="1023.9" r="4.3" fill="#E6A932" stroke="#3a2a08" stroke-width="1.1"/>
<circle cx="1973.1" cy="1030.4" r="4.3" fill="#E6A932" stroke="#3a2a08" stroke-width="1.1"/>
<circle cx="1973.1" cy="1055.4" r="4.3" fill="#E6A932" stroke="#3a2a08" stroke-width="1.1"/>
<circle cx="1973.1" cy="1064.5" r="4.3" fill="#E6A932" stroke="#3a2a08" stroke-width="1.1"/>
<circle cx="1973.1" cy="1086.4" r="4.3" fill="#E6A932" stroke="#3a2a08" stroke-width="1.1"/>
<text x="-1.8" y="24.7" font-size="32.5" fill="#111" font-weight="bold">a</text>
<text x="1422.9" y="24.4" font-size="32.5" fill="#111" font-weight="bold">b</text>
<text x="1424.5" y="573.9" font-size="32.5" fill="#111" font-weight="bold">c</text>
<text fill="#E2A533" font-size="29.3"><tspan x="131.9" y="36.7" font-size="29.3">Preferred heading</tspan><tspan x="374.2" y="36.7" font-size="29.3">(</tspan><tspan x="383.6" y="36.7" font-size="29.3">θ</tspan><tspan x="399.3" y="26.9" font-size="23">p</tspan><tspan x="415.2" y="36.7" font-size="29.3">)</tspan></text>
<text fill="#9D9D9D" font-size="29.3"><tspan x="133.2" y="78.5" font-size="29.3">Anti-preferred heading</tspan><tspan x="430.6" y="78.5" font-size="29.3">(</tspan><tspan x="440.5" y="78.5" font-size="29.3">θ</tspan><tspan x="456.6" y="68.8" font-size="23">p</tspan><tspan x="470.1" y="78.5" font-size="29.3">+180°)</tspan></text>
<text fill="#E2A533" font-size="29.3"><tspan x="1563.4" y="83.5" font-size="29.3">Preferred heading</tspan><tspan x="1805.7" y="83.5" font-size="29.3">(</tspan><tspan x="1815.1" y="83.5" font-size="29.3">θ</tspan><tspan x="1830.8" y="73.8" font-size="23">p</tspan><tspan x="1846.7" y="83.5" font-size="29.3">)</tspan></text>
<text fill="#9D9D9D" font-size="29.3"><tspan x="1564.7" y="128.5" font-size="29.3">Anti-preferred heading</tspan><tspan x="1862.1" y="128.5" font-size="29.3">(</tspan><tspan x="1872.0" y="128.5" font-size="29.3">θ</tspan><tspan x="1888.1" y="118.8" font-size="23">p</tspan><tspan x="1901.6" y="128.5" font-size="29.3">+180°)</tspan></text>
<text x="65.7" y="74.5" font-size="29" fill="#1a1a1a">30</text>
<text x="77.1" y="297.8" font-size="29" fill="#1a1a1a">0</text>
<text x="65.7" y="339.0" font-size="29" fill="#1a1a1a">20</text>
<text x="77.1" y="563.8" font-size="29" fill="#1a1a1a">0</text>
<text x="65.7" y="640.8" font-size="29" fill="#1a1a1a">30</text>
<text x="65.7" y="828.8" font-size="29" fill="#1a1a1a">10</text>
<text x="65.7" y="905.0" font-size="29" fill="#1a1a1a">10</text>
<text x="77.1" y="1091.7" font-size="29" fill="#1a1a1a">0</text>
<text x="65.7" y="1149.0" font-size="29" fill="#1a1a1a">20</text>
<text x="77.1" y="1356.5" font-size="29" fill="#1a1a1a">0</text>
<text x="65.9" y="1399.4" font-size="29" fill="#1a1a1a">15</text>
<text x="77.1" y="1611.9" font-size="29" fill="#1a1a1a">0</text>
<text x="77.4" y="1643.6" font-size="29" fill="#1a1a1a">3</text>
<text x="77.1" y="1868.5" font-size="29" fill="#1a1a1a">0</text>
<text x="732.9" y="72.1" font-size="29" fill="#1a1a1a">15</text>
<text x="749.4" y="298.0" font-size="29" fill="#1a1a1a">0</text>
<text x="733.5" y="339.4" font-size="29" fill="#1a1a1a">15</text>
<text x="749.4" y="565.0" font-size="29" fill="#1a1a1a">0</text>
<text x="751.3" y="617.7" font-size="29" fill="#1a1a1a">4</text>
<text x="751.9" y="829.5" font-size="29" fill="#1a1a1a">0</text>
<text x="750.1" y="867.0" font-size="29" fill="#1a1a1a">8</text>
<text x="749.8" y="980.0" font-size="29" fill="#1a1a1a">4</text>
<text x="749.9" y="1092.5" font-size="29" fill="#1a1a1a">0</text>
<text x="733.8" y="1133.0" font-size="29" fill="#1a1a1a">40</text>
<text x="749.9" y="1356.9" font-size="29" fill="#1a1a1a">0</text>
<text x="734.0" y="1387.7" font-size="29" fill="#1a1a1a">25</text>
<text x="750.1" y="1612.6" font-size="29" fill="#1a1a1a">5</text>
<text x="743.8" y="1669.7" font-size="29" fill="#1a1a1a">1</text>
<text x="744.4" y="1869.5" font-size="29" fill="#1a1a1a">0</text>
<text x="89.4" y="1893.8" font-size="29" fill="#1a1a1a">-1</text>
<text x="592.6" y="1893.7" font-size="29" fill="#1a1a1a">5</text>
<text x="758.0" y="1893.8" font-size="29" fill="#1a1a1a">-1</text>
<text x="1261.2" y="1893.7" font-size="29" fill="#1a1a1a">5</text>
<text x="280.6" y="1913.0" font-size="29" fill="#1a1a1a">v</text>
<text x="302.5" y="1903.6" font-size="22.5" fill="#1a1a1a">p</text>
<text x="323.3" y="1913.0" font-size="29" fill="#1a1a1a">(mm/s)</text>
<text x="953.6" y="1913.0" font-size="29" fill="#1a1a1a">v</text>
<text x="976.4" y="1903.6" font-size="22.5" fill="#1a1a1a">p</text>
<text x="997.3" y="1913.0" font-size="29" fill="#1a1a1a">(mm/s)</text>
<text x="1721.8" y="483.4" font-size="29" fill="#1a1a1a">v</text>
<text x="1741.6" y="476.1" font-size="22.5" fill="#1a1a1a">p</text>
<text x="1763.5" y="483.4" font-size="29" fill="#1a1a1a">(mm/s)</text>
<text x="618.8" y="266.8" font-size="29" fill="#1a1a1a">cell 1</text>
<text x="618.8" y="527.9" font-size="29" fill="#1a1a1a">cell 3</text>
<text x="618.8" y="798.7" font-size="29" fill="#1a1a1a">cell 5</text>
<text x="618.8" y="1054.5" font-size="29" fill="#1a1a1a">cell 7</text>
<text x="610.3" y="1304.6" font-size="29" fill="#1a1a1a">cell 9</text>
<text x="610.3" y="1578.2" font-size="29" fill="#1a1a1a">cell 11</text>
<text x="610.3" y="1838.0" font-size="29" fill="#1a1a1a">cell 13</text>
<text x="1288.9" y="266.8" font-size="29" fill="#1a1a1a">cell 2</text>
<text x="1288.9" y="527.9" font-size="29" fill="#1a1a1a">cell 4</text>
<text x="1288.9" y="798.7" font-size="29" fill="#1a1a1a">cell 6</text>
<text x="1288.9" y="1054.5" font-size="29" fill="#1a1a1a">cell 8</text>
<text x="1280.5" y="1304.6" font-size="29" fill="#1a1a1a">cell 10</text>
<text x="1280.5" y="1578.2" font-size="29" fill="#1a1a1a">cell 12</text>
<text x="1280.5" y="1838.0" font-size="29" fill="#1a1a1a">cell 14</text>
<text transform="translate(51.8,1010.2) rotate(-90)" x="-167.8" y="0" font-size="29" fill="#1a1a1a">PFNd firing rate (spikes/s)</text>
<text transform="translate(1466.3,274.8) rotate(-90)" x="-102.0" y="0" font-size="29" fill="#1a1a1a">PFNd firing rate</text>
<text transform="translate(1501.5,274.8) rotate(-90)" x="-62.0" y="0" font-size="29" fill="#1a1a1a">(spikes/s)</text>
<text transform="translate(1519.0,865.4) rotate(-90)" x="-167.3" y="0" font-size="29" fill="#1a1a1a">Slope (spikes/s per mm/s)</text>
<text transform="translate(1865.5,867.1) rotate(-90)" x="-132.9" y="0" font-size="29" fill="#1a1a1a">y-intercept (spikes/s)</text>
<text x="1502.2" y="124.8" font-size="29" fill="#1a1a1a">15</text>
<text x="1514.6" y="426.5" font-size="29" fill="#1a1a1a">0</text>
<text x="1524.1" y="452.8" font-size="29" fill="#1a1a1a">-1</text>
<text x="2046.3" y="452.7" font-size="29" fill="#1a1a1a">5</text>
<text x="1546.1" y="696.2" font-size="29" fill="#1a1a1a">3</text>
<text x="1546.4" y="831.9" font-size="29" fill="#1a1a1a">2</text>
<text x="1544.6" y="969.5" font-size="29" fill="#1a1a1a">1</text>
<text x="1545.9" y="1109.3" font-size="29" fill="#1a1a1a">0</text>
<text x="1883.7" y="595.5" font-size="29" fill="#1a1a1a">20</text>
<text x="1883.7" y="849.5" font-size="29" fill="#1a1a1a">10</text>
<text x="1903.6" y="1106.0" font-size="29" fill="#1a1a1a">0</text>
<text x="1578.8" y="1159.9" font-size="29" fill="#1a1a1a">p=4x10</text>
<text x="1674.8" y="1150.3" font-size="21" fill="#1a1a1a">-4</text>
<text x="1917.9" y="1159.9" font-size="29" fill="#1a1a1a">p=0.0002</text>
</svg></body></html>
